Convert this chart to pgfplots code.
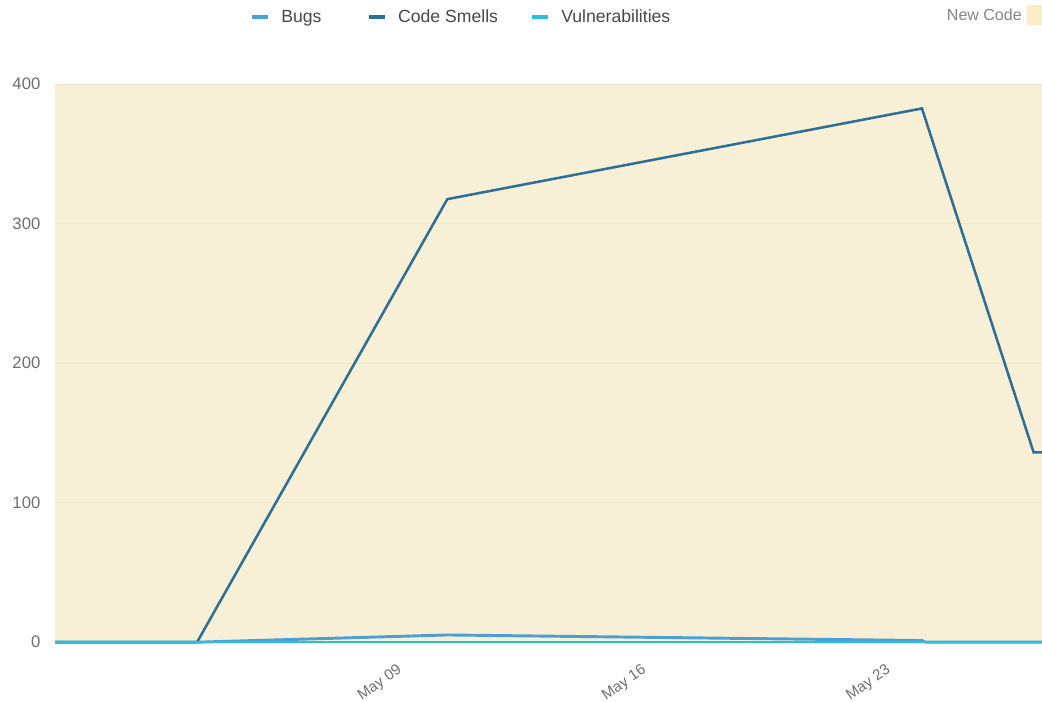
\documentclass[border=0pt]{standalone}
\usepackage{pgfplots}
\pgfplotsset{compat=1.18}
\usepackage{fontspec}
\setmainfont{Liberation Sans}
\definecolor{bugc}{HTML}{4B9FD5}
\definecolor{smellc}{HTML}{2F6F97}
\definecolor{vulnc}{HTML}{2BC0DA}
\definecolor{newbg}{HTML}{F8F0D6}
\definecolor{boxc}{HTML}{F9EDC6}
\definecolor{gridc}{HTML}{F1E8CC}
\definecolor{txtc}{HTML}{6E6E6E}
\begin{document}
\begin{tikzpicture}
\begin{axis}[
  at={(0,0)}, anchor=south west,
  scale only axis,
  width=740pt, height=418.5pt,
  xmin=-0.94, xmax=27.34,
  ymin=0, ymax=400,
  axis line style={draw=none},
  axis background/.style={fill=newbg},
  ytick={0,100,200,300,400},
  xtick={9,16,23},
  xticklabels={May 09,May 16,May 23},
  major tick length=0pt,
  ymajorgrids,
  grid style={gridc, line width=0.6pt},
  tick label style={font=\fontsize{12.5}{14}\selectfont, text=txtc},
  /pgf/number format/assume math mode=true,
  yticklabel style={xshift=-7.5pt},
  xticklabel style={rotate=35, anchor=north east, font=\fontsize{11.3}{13}\selectfont, xshift=-9pt, yshift=-7pt},
  clip=false,
  legend columns=3,
  legend style={draw=none, fill=none, at={(0.4105,1.12)}, anchor=center,
    font=\fontsize{13.2}{15}\selectfont, text=black!72,
    nodes={inner sep=0pt},
    /tikz/every odd column/.append style={column sep=8.5pt},
    /tikz/column 2/.style={column sep=34pt},
    /tikz/column 4/.style={column sep=24pt}},
  legend image code/.code={\draw[line width=3pt,#1] (0pt,0pt) -- (12pt,0pt);},
]
\addplot[bugc, line width=2.2pt, line join=round] coordinates {
  (-0.94,0) (3.13,0) (10.3,5.2) (23.9,1.2) (24.0,0) (27.1,0) (27.34,0)};
\addlegendentry{Bugs}
\addplot[smellc, line width=1.9pt, line join=miter] coordinates {
  (-0.94,0) (3.13,0) (10.3,317.5) (23.9,382.5) (27.1,136) (27.34,136)};
\addlegendentry{Code Smells}
\addplot[vulnc, line width=1.9pt] coordinates {
  (-0.94,0) (3.13,0) (10.3,0) (23.9,0) (27.1,0) (27.34,0)};
\addlegendentry{Vulnerabilities}
\node[anchor=east, text=txtc!85, font=\fontsize{12}{14}\selectfont, inner sep=0pt]
  at (rel axis cs:0.9797,1.1237) {New Code};
\fill[boxc] (rel axis cs:0.9848,1.1057) rectangle (rel axis cs:1,1.1416);
\end{axis}
\pgfresetboundingbox
\path[use as bounding box] (-41.25pt,-44.25pt) rectangle (740pt,481.5pt);
\end{tikzpicture}
\end{document}
